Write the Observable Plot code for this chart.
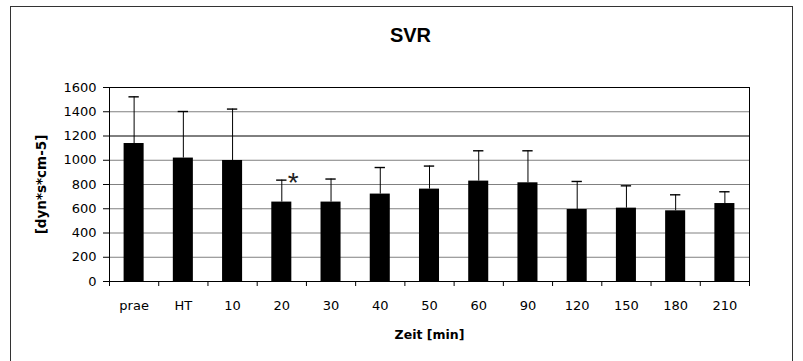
<!DOCTYPE html>
<html>
<head>
<meta charset="utf-8">
<script src="https://cdn.jsdelivr.net/npm/d3@7"></script>
<script src="https://cdn.jsdelivr.net/npm/@observablehq/plot@0.6"></script>
<style>
  html, body { margin: 0; padding: 0; background: #fff; }
  #wrap { position: relative; width: 803px; height: 361px; overflow: hidden; }
  #border { position: absolute; left: 10px; top: 6px; width: 783px; height: 400px; border: 1.5px solid #333; box-sizing: border-box; pointer-events: none; }
</style>
</head>
<body>
<div id="wrap"><div id="border"></div></div>
<script>
const categories = ["prae", "HT", "10", "20", "30", "40", "50", "60", "90", "120", "150", "180", "210"];
const means = [1138, 1018, 998, 655, 655, 721, 762, 828, 814, 594, 605, 583, 643];
const sdUpper = [385, 384, 424, 181, 190, 219, 190, 250, 264, 231, 184, 132, 97];
const significant = ["20"];
const yTicks = [0, 200, 400, 600, 800, 1000, 1200, 1400, 1600];
const title = "SVR";
const xLabel = "Zeit [min]";
const yLabel = "[dyn*s*cm-5]";

const data = categories.map((c, i) => ({cat: c, i, mean: means[i], top: means[i] + sdUpper[i], sig: significant.includes(c)}));
const tickFont = "'DejaVu Sans', 'Liberation Sans', Arial, sans-serif";

const chart = Plot.plot({
  width: 803,
  height: 361,
  marginLeft: 109,
  marginRight: 54,
  marginTop: 87,
  marginBottom: 80,
  style: {fontFamily: tickFont, fontSize: "13px", background: "transparent", color: "#000", overflow: "visible"},
  x: {type: "linear", domain: [0, categories.length]},
  y: {domain: [0, 1600]},
  marks: [
    Plot.ruleY(yTicks.filter(t => t !== 1200), {y: d => d, stroke: "#808080", strokeWidth: 1}),
    Plot.ruleY(yTicks.filter(t => t === 1200), {y: d => d, stroke: "#000", strokeWidth: 1}),
    Plot.rectY(data, {x1: d => d.i, x2: d => d.i + 1, y: "mean", insetLeft: 14.6, insetRight: 14.6, fill: "#000"}),
    Plot.ruleX(data, {x: d => d.i + 0.5, y1: "mean", y2: "top", stroke: "#000", strokeWidth: 1}),
    Plot.ruleY(data, {y: "top", x1: d => d.i + 0.5 - 0.105, x2: d => d.i + 0.5 + 0.105, stroke: "#000", strokeWidth: 1.4}),
    Plot.text(data.filter(d => d.sig), {x: d => d.i + 0.5, y: "top", text: () => "*", dx: 11.5, dy: 12, lineAnchor: "bottom", fontSize: 28, fontFamily: "'Liberation Sans', Arial, sans-serif", fill: "#222"}),
    Plot.frame({stroke: "#000", strokeWidth: 1}),
    Plot.axisY({ticks: yTicks, tickSize: 6, tickPadding: 7, tickFormat: d => String(d), fontSize: 13, label: null}),
    Plot.axisX({ticks: d3.range(categories.length + 1), tickSize: 5, tickFormat: () => "", label: null}),
    Plot.axisX({ticks: d3.range(categories.length).map(i => i + 0.5), tickSize: 0, tickPadding: 19, tickFormat: v => categories[Math.floor(v)], fontSize: 13, label: null}),
    Plot.text([title], {frameAnchor: "top", dx: -19, dy: -60, fontSize: 20, fontWeight: "bold", fontFamily: "'Liberation Sans', Arial, sans-serif"}),
    Plot.text([xLabel], {frameAnchor: "bottom", dy: 57, fontSize: 12.5, fontWeight: "bold"}),
    Plot.text([yLabel], {frameAnchor: "left", dx: -68, rotate: -90, textAnchor: "middle", lineAnchor: "middle", fontSize: 13.5, fontWeight: "bold"})
  ]
});
document.getElementById("wrap").prepend(chart);
</script>
</body>
</html>
